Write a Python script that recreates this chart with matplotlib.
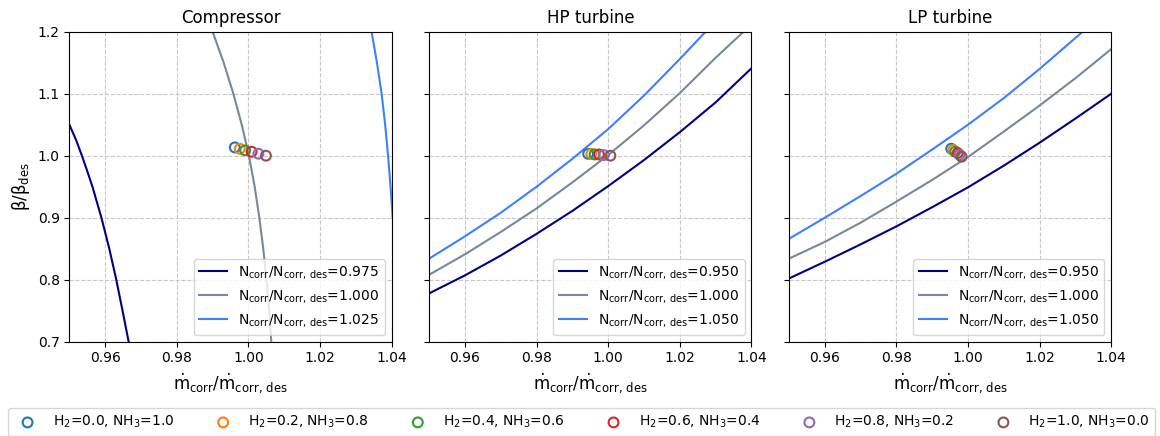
import matplotlib
matplotlib.use('Agg')
import matplotlib.pyplot as plt

# speed lines: (x = mdot_corr/mdot_des, y = beta/beta_des)
comp_n = [0.975, 1.000, 1.025]
comp_x = [
    [0.9500, 0.9519, 0.9535, 0.9550, 0.95645, 0.95895, 0.96115, 0.9631, 0.96485, 0.96655],
    [0.9900, 0.9931, 0.9958, 0.99815, 1.00015, 1.00175, 1.00305, 1.00415, 1.00505, 1.0058, 1.0064],
    [1.0344, 1.0359, 1.0372, 1.0382, 1.0390, 1.0397, 1.0403],
]
comp_y = [
    [1.050, 1.025, 1.000, 0.975, 0.950, 0.900, 0.850, 0.800, 0.750, 0.700],
    [1.200, 1.150, 1.100, 1.050, 1.000, 0.950, 0.900, 0.850, 0.800, 0.750, 0.700],
    [1.200, 1.150, 1.100, 1.050, 1.000, 0.950, 0.900],
]

hp_n = [0.950, 1.000, 1.050]
hp_x = [
    [0.95, 0.96, 0.97, 0.98, 0.99, 1.00, 1.01, 1.02, 1.03, 1.04],
    [0.95, 0.96, 0.97, 0.98, 0.99, 1.00, 1.01, 1.02, 1.03, 1.0378],
    [0.95, 0.96, 0.97, 0.98, 0.99, 1.00, 1.01, 1.02, 1.0272],
]
hp_y = [
    [0.778, 0.807, 0.839, 0.874, 0.911, 0.951, 0.993, 1.038, 1.086, 1.141],
    [0.808, 0.841, 0.877, 0.915, 0.957, 1.001, 1.049, 1.101, 1.158, 1.200],
    [0.834, 0.870, 0.908, 0.950, 0.995, 1.043, 1.097, 1.156, 1.200],
]

lp_n = [0.950, 1.000, 1.050]
lp_x = [
    [0.95, 0.96, 0.97, 0.98, 0.99, 1.00, 1.01, 1.02, 1.03, 1.04],
    [0.95, 0.96, 0.97, 0.98, 0.99, 1.00, 1.01, 1.02, 1.03, 1.04],
    [0.95, 0.96, 0.97, 0.98, 0.99, 1.00, 1.01, 1.02, 1.03, 1.032],
]
lp_y = [
    [0.802, 0.829, 0.857, 0.886, 0.917, 0.949, 0.984, 1.021, 1.060, 1.100],
    [0.834, 0.861, 0.892, 0.926, 0.961, 0.998, 1.039, 1.081, 1.125, 1.172],
    [0.866, 0.900, 0.935, 0.971, 1.010, 1.050, 1.093, 1.140, 1.190, 1.200],
]

# operating points for each fuel mix
fuel_labels = ['H$_2$=0.0, NH$_3$=1.0', 'H$_2$=0.2, NH$_3$=0.8', 'H$_2$=0.4, NH$_3$=0.6',
               'H$_2$=0.6, NH$_3$=0.4', 'H$_2$=0.8, NH$_3$=0.2', 'H$_2$=1.0, NH$_3$=0.0']
comp_pt_x = [0.9962, 0.9976, 0.9991, 1.0009, 1.0028, 1.0049]
comp_pt_y = [1.0134, 1.0112, 1.0086, 1.0064, 1.0032, 1.0000]
hp_pt_x = [0.9944, 0.9953, 0.9962, 0.9974, 0.9988, 1.0006]
hp_pt_y = [1.003, 1.003, 1.002, 1.002, 1.001, 1.000]
lp_pt_x = [0.9953, 0.9959, 0.9964, 0.9971, 0.9976, 0.9982]
lp_pt_y = [1.0113, 1.0091, 1.0064, 1.0043, 1.0016, 0.9984]

line_colors = ['navy', 'lightslategray', '#3d80ff']
pt_colors = ['C0', 'C1', 'C2', 'C3', 'C4', 'C5']

fig, axes = plt.subplots(1, 3, figsize=(11.6, 4.36), sharey=True)
fig.subplots_adjust(left=0.0598, right=0.958, top=0.9273, bottom=0.2163, wspace=0.1166)

panels = [
    ('Compressor', comp_n, comp_x, comp_y, comp_pt_x, comp_pt_y),
    ('HP turbine', hp_n, hp_x, hp_y, hp_pt_x, hp_pt_y),
    ('LP turbine', lp_n, lp_x, lp_y, lp_pt_x, lp_pt_y),
]

for ax, (title, speeds, xs, ys, px, py) in zip(axes, panels):
    for n, x, y, c in zip(speeds, xs, ys, line_colors):
        ax.plot(x, y, color=c, lw=1.5,
                label=r'N$_{\mathrm{corr}}$/N$_{\mathrm{corr,\,des}}$=' + f'{n:.3f}')
    for i in range(len(px)):
        ax.scatter(px[i], py[i], s=50, facecolors='none', edgecolors=pt_colors[i],
                   linewidths=1.5, zorder=3, label=fuel_labels[i])
    ax.set_title(title, fontsize=12)
    ax.set_xlim(0.95, 1.04)
    ax.set_ylim(0.7, 1.2)
    ax.set_xticks([0.96, 0.98, 1.00, 1.02, 1.04])
    ax.set_yticks([0.7, 0.8, 0.9, 1.0, 1.1, 1.2])
    ax.grid(True, linestyle='--', color='#c8c8c8', lw=0.8)
    ax.set_xlabel(r'$\dot{\mathrm{m}}_{\mathrm{corr}}/\dot{\mathrm{m}}_{\mathrm{corr,\,des}}$', fontsize=12)
    handles, labels = ax.get_legend_handles_labels()
    ax.legend(handles[:3], labels[:3], loc='lower right', fontsize=10)

axes[0].set_ylabel(r'$\mathrm{\beta}/\mathrm{\beta}_{\mathrm{des}}$', fontsize=12)

handles, labels = axes[0].get_legend_handles_labels()
fig.legend(handles[3:], labels[3:], loc='lower left', ncol=6, mode='expand',
           bbox_to_anchor=(0.007, 0.0, 0.989, 0.06), fontsize=10, borderaxespad=0.0)

fig.savefig('out.png', dpi=100)
